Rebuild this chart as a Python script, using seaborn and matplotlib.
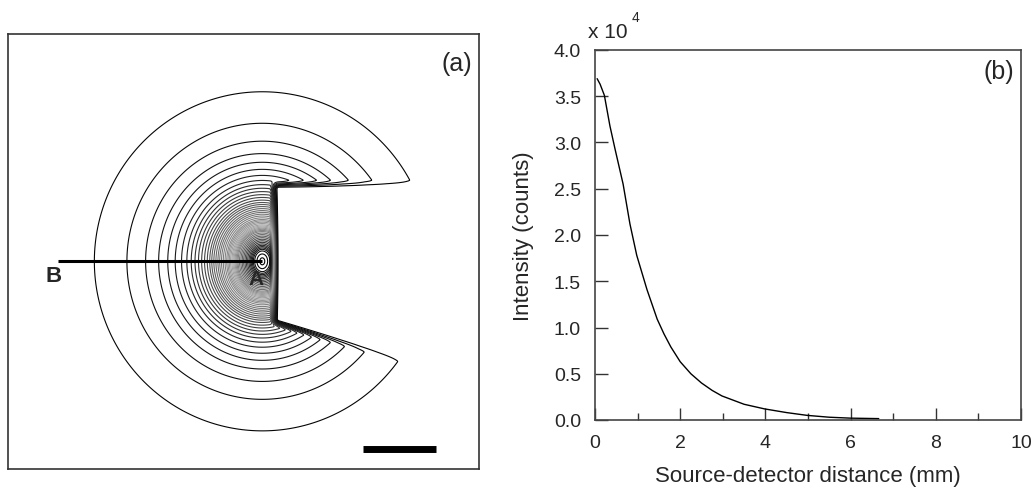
import numpy as np
import matplotlib
matplotlib.use("Agg")
import matplotlib.pyplot as plt
import seaborn as sns
from matplotlib.colors import LinearSegmentedColormap
from matplotlib.ticker import FuncFormatter

# intensity profile along B-A (panel b)
distance_mm = [0.05, 0.12, 0.22, 0.35, 0.47, 0.66, 0.82, 0.98, 1.22, 1.46, 1.62, 1.78,
               2.0, 2.25, 2.5, 2.75, 2.98, 3.5, 3.98, 4.5, 4.98, 5.5, 6.0, 6.66]
intensity = [36900, 36300, 35100, 31800, 29300, 25500, 21200, 17800, 14100, 10900, 9300, 7900,
             6300, 5000, 4000, 3200, 2600, 1700, 1200, 800, 500, 300, 200, 150]

# contour map (panel a): same profile, cut by the detector edge on the right
contour_step = 750
edge_x = 0.45          # mm, vertical wall right of A
edge_top = 1.97        # mm, upper edge of the blocked region
edge_bottom = -1.58    # mm, lower edge at the wall
edge_bottom_slope = -0.28
edge_width = 0.25
stretch = 0.45         # vertical elongation of the inner rings
stretch_scale = 1.2    # mm
line_b_mm = 5.58
scale_bar_mm = 2.0

sns.set_style("ticks")
plt.rcParams['font.family'] = ['Liberation Sans', 'DejaVu Sans']

fig = plt.figure(figsize=(10.36, 4.89), dpi=100)
ax1 = fig.add_axes([8/1036, 19/489, 471.3/1036, 435/489])
ax2 = fig.add_axes([595/1036, 68/489, 426/1036, 370/489])

# ---- panel (a)
xs = np.linspace(-6.935, 5.918, 760)
ys = np.linspace(-5.664, 6.199, 700)
X, Y = np.meshgrid(xs, ys)
R0 = np.hypot(X, Y)
s = 1 + stretch * np.exp(-R0 / stretch_scale)
R = np.hypot(X, Y / s)
field = np.interp(R, distance_mm, intensity, left=intensity[0], right=0)


def ramp(u, w):
    t = np.clip(u / w, 0, 1)
    return t * t * (3 - 2 * t)


ybot = edge_bottom + edge_bottom_slope * (X - edge_x)
blocked = (ramp(X - (edge_x - edge_width), edge_width)
           * ramp(edge_top + edge_width - Y, edge_width)
           * ramp(Y - (ybot - edge_width), edge_width))
field = field * (1 - blocked)

levels = np.arange(contour_step, max(intensity), contour_step)
cmap = LinearSegmentedColormap.from_list(
    "grey_contours",
    [(0, "#000000"), (0.15, "#202020"), (0.35, "#606060"), (0.6, "#a8a8a8"),
     (0.72, "#707070"), (0.85, "#303030"), (1, "#000000")])
ax1.contour(X, Y, field, levels=levels, cmap=cmap, vmin=0, vmax=max(intensity),
            linewidths=0.8)

ax1.plot([-line_b_mm, 0], [0, 0], color="black", lw=2.2, solid_capstyle="butt")
ax1.plot([2.74, 2.74 + scale_bar_mm], [-5.105, -5.105], color="black", lw=5,
         solid_capstyle="butt")
ax1.text(-5.694, -0.387, "B", fontsize=16, fontweight="bold", ha="center", va="center")
ax1.text(-0.158, -0.469, "A", fontsize=15, fontweight="bold", ha="center", va="center")
ax1.text(0.953, 0.933, "(a)", transform=ax1.transAxes, fontsize=18, ha="center", va="center")
ax1.set_xlim(-6.935, 5.918)
ax1.set_ylim(-5.664, 6.199)
ax1.set_xticks([])
ax1.set_yticks([])
for sp in ax1.spines.values():
    sp.set_color("#333333")
    sp.set_linewidth(1.2)

# ---- panel (b)
sns.lineplot(x=distance_mm, y=intensity, ax=ax2, color="black", lw=1.0)
ax2.set_xlim(0, 10)
ax2.set_ylim(0, 40000)
ax2.set_xticks(range(0, 11, 2))
ax2.set_xticks(range(1, 10, 2), minor=True)
ax2.set_yticks(np.arange(0, 40001, 5000))
ax2.yaxis.set_major_formatter(FuncFormatter(lambda v, p: "%.1f" % (v / 1e4)))
ax2.tick_params(axis="both", which="major", direction="in", length=9, width=1,
                labelsize=14, pad=10, color="#333333")
ax2.tick_params(axis="x", which="minor", direction="in", length=5, width=1,
                color="#333333")
ax2.tick_params(top=False, right=False, which="both")
for sp in ax2.spines.values():
    sp.set_color("#444444")
    sp.set_linewidth(1.2)
ax2.set_xlabel("Source-detector distance (mm)", fontsize=16, labelpad=10)
ax2.set_ylabel("Intensity (counts)", fontsize=16, labelpad=14)
ax2.text(-0.0164, 1.035, "x 10", transform=ax2.transAxes, fontsize=15, va="baseline")
ax2.text(0.0869, 1.108, "4", transform=ax2.transAxes, fontsize=10, va="top")
ax2.text(0.948, 0.942, "(b)", transform=ax2.transAxes, fontsize=18, ha="center", va="center")

fig.savefig("out.png", dpi=100)
